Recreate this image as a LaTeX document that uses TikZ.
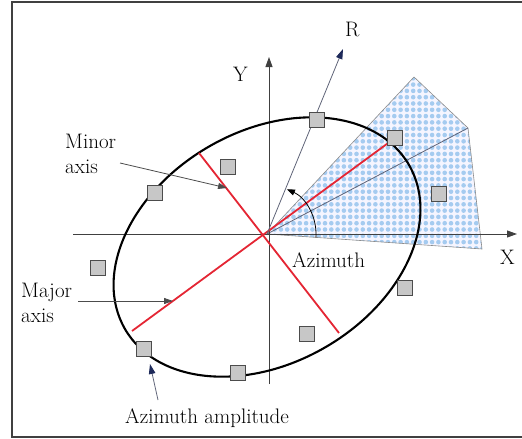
\documentclass[tikz,border=0pt]{standalone}
\usetikzlibrary{arrows.meta}
\definecolor{redax}{RGB}{228,38,52}
\definecolor{dotblue}{RGB}{165,203,240}
\definecolor{navy}{RGB}{30,42,90}
\definecolor{rline}{RGB}{95,100,120}
\begin{document}
\begin{tikzpicture}[x=1pt,y=-1pt,
  lbl/.style={font=\fontsize{21}{23}\selectfont, inner sep=0pt, anchor=base west},
  sq/.style={draw=black!70, fill=black!22, minimum size=15pt, inner sep=0pt, line width=0.9pt},
  axis line/.style={draw=black!75, line width=0.9pt, -{Triangle[length=10pt,width=7pt]}},
  pointer/.style={draw=black!70, line width=0.8pt, -{Triangle[length=9pt,width=6pt]}},
  navypointer/.style={draw=rline, line width=0.8pt, -{Triangle[length=10pt,width=6.5pt,color=navy,fill=navy]}},
  redline/.style={draw=redax, line width=1.8pt},
  fan/.style={draw=black!45, line width=0.6pt}]
\useasboundingbox (0,0) rectangle (522,439);
% frame
\draw[black!75, line width=1.6pt] (522,2) -- (12,2) -- (12,437) -- (522,437);

% key points
\coordinate (O) at (267,234);
\coordinate (F1) at (414,77);
\coordinate (F2) at (468,128);
\coordinate (F3) at (482,249);

% dotted sector
\begin{scope}
  \clip (O) -- (F1) -- (F2) -- (F3) -- cycle;
  \fill[blue!4] (260,70) rectangle (490,260);
  \foreach \i in {0,...,37}{
    \foreach \j in {0,...,30}{
      \fill[dotblue] (262+\i*6.3, 72+\j*6.3) circle (2.3);
    }
  }
\end{scope}
\draw[fan] (O) -- (F1) -- (F2) -- (F3) -- cycle;
\draw[draw=rline, line width=0.8pt] (O) -- (F2);

% axes
\coordinate (Xs) at (73,234);
\coordinate (Xe) at (517,234);
\coordinate (Ys) at (269,384);
\coordinate (Ye) at (269,57);
\draw[axis line] (Xs) -- (Xe);
\draw[axis line] (Ys) -- (Ye);

% ellipse
\draw[black, line width=2.1pt, rotate around={30:(267,247)}] (267,247) ellipse [x radius=164, y radius=116];

% red axes
\coordinate (Ma1) at (132,331);
\coordinate (Ma2) at (395,138);
\coordinate (Mi1) at (199,153);
\coordinate (Mi2) at (339,333);
\draw[redline] (Ma1) -- (Ma2);
\draw[redline] (Mi1) -- (Mi2);

% R arrow
\coordinate (Rt) at (343,49);
\draw[navypointer] (O) -- (Rt);

% azimuth arc
\draw[black, line width=0.8pt, -{Triangle[length=8pt,width=6pt]}] (O) ++(4:49) arc[start angle=4, end angle=-66, radius=49];

% squares
\node[sq] (s1) at (317,120) {};
\node[sq] (s2) at (395,138) {};
\node[sq] (s3) at (228,167) {};
\node[sq] (s4) at (155,193) {};
\node[sq] (s5) at (98,268) {};
\node[sq] (s6) at (439,194) {};
\node[sq] (s7) at (405,288) {};
\node[sq] (s8) at (307,334) {};
\node[sq] (s9) at (238,373) {};
\node[sq] (s10) at (144,349) {};

% labels
\node[lbl] (lR) at (345,36) {R};
\node[lbl] (lY) at (233,81) {Y};
\node[lbl] (lX) at (500,264) {X};
\node[lbl] (lMin) at (65,148) {Minor};
\node[lbl] (lMin2) at (65,173) {axis};
\node[lbl] (lMaj) at (21,297) {Major};
\node[lbl] (lMaj2) at (21,322) {axis};
\node[lbl] (lAz) at (292,267) {Azimuth};
\node[lbl] (lAmp) at (125,423) {Azimuth amplitude};

% pointers
\coordinate (pMin) at (120,163);
\coordinate (pMinT) at (227,188);
\coordinate (pMaj) at (78,301);
\coordinate (pMajT) at (173,301);
\coordinate (pAmp) at (158,400);
\coordinate (pAmpT) at (150,364);
\draw[pointer] (pMin) -- (pMinT);
\draw[pointer] (pMaj) -- (pMajT);
\draw[navypointer] (pAmp) -- (pAmpT);
\end{tikzpicture}
\end{document}
